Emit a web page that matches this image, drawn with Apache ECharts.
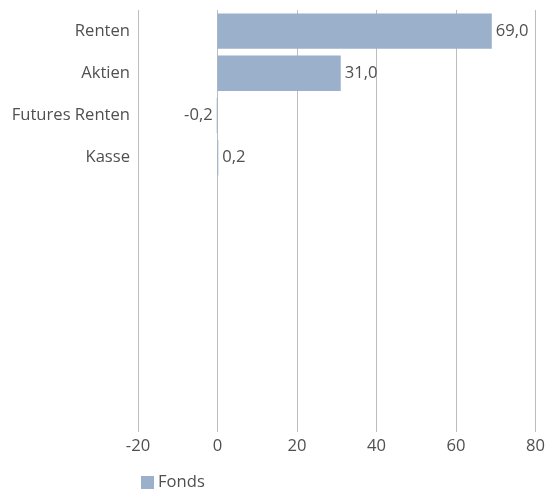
<!DOCTYPE html>
<html>
<head>
<meta charset="utf-8">
<script src="https://cdn.jsdelivr.net/npm/echarts@6/dist/echarts.min.js"></script>
<style>
  html, body { margin: 0; padding: 0; background: #fff; }
  #chart { width: 548px; height: 490px; }
</style>
</head>
<body>
<div id="chart"></div>
<script>
var categories = ['Renten', 'Aktien', 'Futures Renten', 'Kasse'];
var fondsValues = [69.0, 31.0, -0.2, 0.2];
var xTicks = [-20, 0, 20, 40, 60, 80];
var slotCount = 10; // empty rows below the four categories

var fontName = '"Open Sans", "Noto Sans", sans-serif';
var textColor = '#505050';
var fontSize = 16.6;

function fmt(v) {
    return v.toFixed(1).replace('.', ',');
}

var yCats = categories.slice();
while (yCats.length < slotCount) yCats.push('');

var barData = [];
for (var i = 0; i < fondsValues.length; i++) {
    barData.push({
        value: fondsValues[i],
        label: { position: fondsValues[i] < 0 ? 'left' : 'right' }
    });
}

var chart = echarts.init(document.getElementById('chart'));
var option = {
    animation: false,
    textStyle: { fontFamily: fontName },
    grid: { left: 138, right: 12, top: 10, height: 422, containLabel: false },
    legend: {
        left: 136,
        top: 469,
        itemWidth: 13,
        itemHeight: 13,
        itemGap: 4,
        icon: 'rect',
        textStyle: { fontSize: fontSize, color: textColor, fontFamily: fontName, padding: [0, 0, 0, -1] },
        data: ['Fonds']
    },
    xAxis: {
        type: 'value',
        min: xTicks[0],
        max: xTicks[xTicks.length - 1],
        interval: 20,
        axisLine: { show: false },
        axisTick: { show: false },
        axisLabel: { fontSize: fontSize, color: textColor, margin: 6 },
        splitLine: { show: true, lineStyle: { color: '#bdbdbd', width: 1 } }
    },
    yAxis: {
        type: 'category',
        inverse: true,
        data: yCats,
        axisLine: { show: false },
        axisTick: { show: false },
        axisLabel: { fontSize: fontSize, color: textColor, margin: 8 },
        splitLine: { show: false }
    },
    series: [{
        name: 'Fonds',
        type: 'bar',
        data: barData,
        barCategoryGap: '16%',
        itemStyle: { color: '#9ab0cb' },
        label: {
            show: true,
            fontSize: fontSize,
            color: textColor,
            distance: 4,
            formatter: function (p) { return fmt(p.value); }
        }
    }]
};
chart.setOption(option);
</script>
</body>
</html>
